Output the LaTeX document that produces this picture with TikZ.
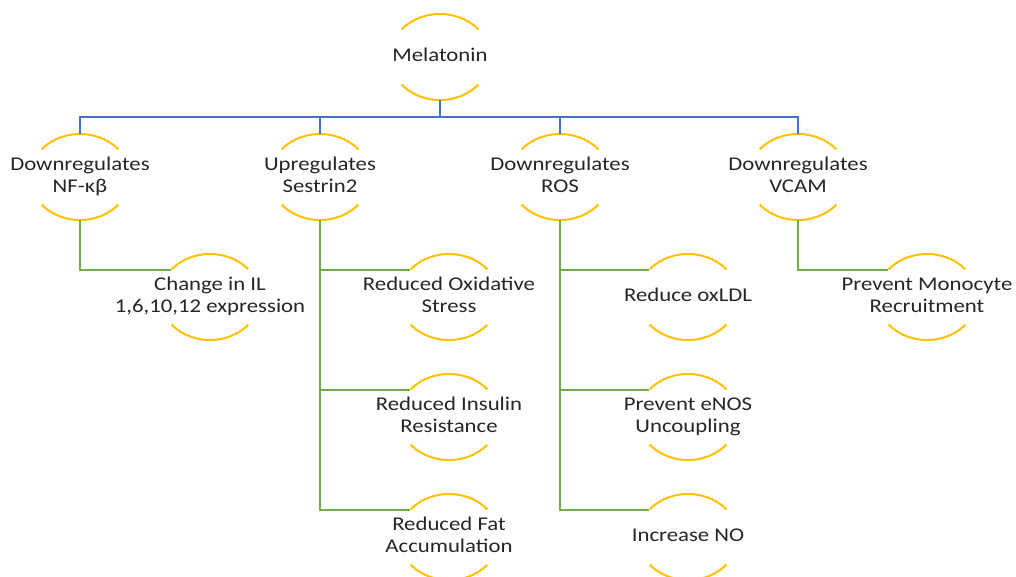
\documentclass[tikz,border=0pt]{standalone}
\usepackage{fontspec}
\setmainfont{Carlito}[FakeStretch=1.17]
\usepackage{xcolor}
\usetikzlibrary{shapes.geometric}

\definecolor{ringgold}{HTML}{FFC000}
\definecolor{trunkblue}{HTML}{4472C4}
\definecolor{branchgreen}{HTML}{70AD47}

\newcommand{\celltext}[1]{\makebox[0pt]{\begin{tabular}{@{}c@{}}#1\end{tabular}}}

\begin{document}
\begin{tikzpicture}[x=0.75pt, y=-0.75pt,
    every node/.style={ellipse, minimum width=75pt, minimum height=64.5pt, inner sep=0pt, outer sep=0pt,
        font=\fontsize{14.6}{16.5}\selectfont, text=black!85},
    ring/.style={draw=ringgold, line width=1.5pt},
    trunk/.style={draw=trunkblue, line width=1.6pt},
    branch/.style={draw=branchgreen, line width=1.6pt}]
    \useasboundingbox (0,0) rectangle (1016,577);

    % top
    \node (mel) at (440, 57) {\celltext{Melatonin}};
    \coordinate (bus) at (440, 117);

    % first row
    \node (nfkb) at (80, 177) {\celltext{Downregulates\\NF-κβ}};
    \node (sestrin) at (320, 177) {\celltext{Upregulates\\Sestrin2}};
    \node (ros) at (560, 177) {\celltext{Downregulates\\ROS}};
    \node (vcam) at (798, 177) {\celltext{Downregulates\\VCAM}};

    % second row
    \node (il) at (210, 297) {\celltext{Change in IL\\1,6,10,12 expression}};
    \node (oxid) at (449, 297) {\celltext{Reduced Oxidative\\Stress}};
    \node (insulin) at (449, 417) {\celltext{Reduced Insulin\\Resistance}};
    \node (fat) at (449, 537) {\celltext{Reduced Fat\\Accumulation}};
    \node (oxldl) at (688, 297) {\celltext{Reduce oxLDL}};
    \node (enos) at (688, 417) {\celltext{Prevent eNOS\\Uncoupling}};
    \node (incno) at (688, 537) {\celltext{Increase NO}};
    \node (mono) at (927, 297) {\celltext{Prevent Monocyte\\Recruitment}};

    % arcs round each node
    \foreach \n in {mel,nfkb,sestrin,ros,vcam,il,oxid,insulin,fat,oxldl,enos,incno,mono} {
        \draw[ring] (\n.center) ++(40:50 and 43) arc[start angle=40, end angle=140, x radius=50, y radius=43];
        \draw[ring] (\n.center) ++(220:50 and 43) arc[start angle=220, end angle=320, x radius=50, y radius=43];
    }

    % blue connectors
    \draw[trunk] (mel.south) -- (bus);
    \draw[trunk] (nfkb.north) |- (bus) -| (vcam.north);
    \draw[trunk] (sestrin.north) -- (sestrin.north |- bus);
    \draw[trunk] (ros.north) -- (ros.north |- bus);

    % green connectors
    \draw[branch] (nfkb.south) |- (il.145);
    \draw[branch] (sestrin.south) |- (fat.145);
    \draw[branch] (sestrin.south |- oxid.145) -- (oxid.145);
    \draw[branch] (sestrin.south |- insulin.145) -- (insulin.145);
    \draw[branch] (ros.south) |- (incno.145);
    \draw[branch] (ros.south |- oxldl.145) -- (oxldl.145);
    \draw[branch] (ros.south |- enos.145) -- (enos.145);
    \draw[branch] (vcam.south) |- (mono.145);
\end{tikzpicture}
\end{document}
